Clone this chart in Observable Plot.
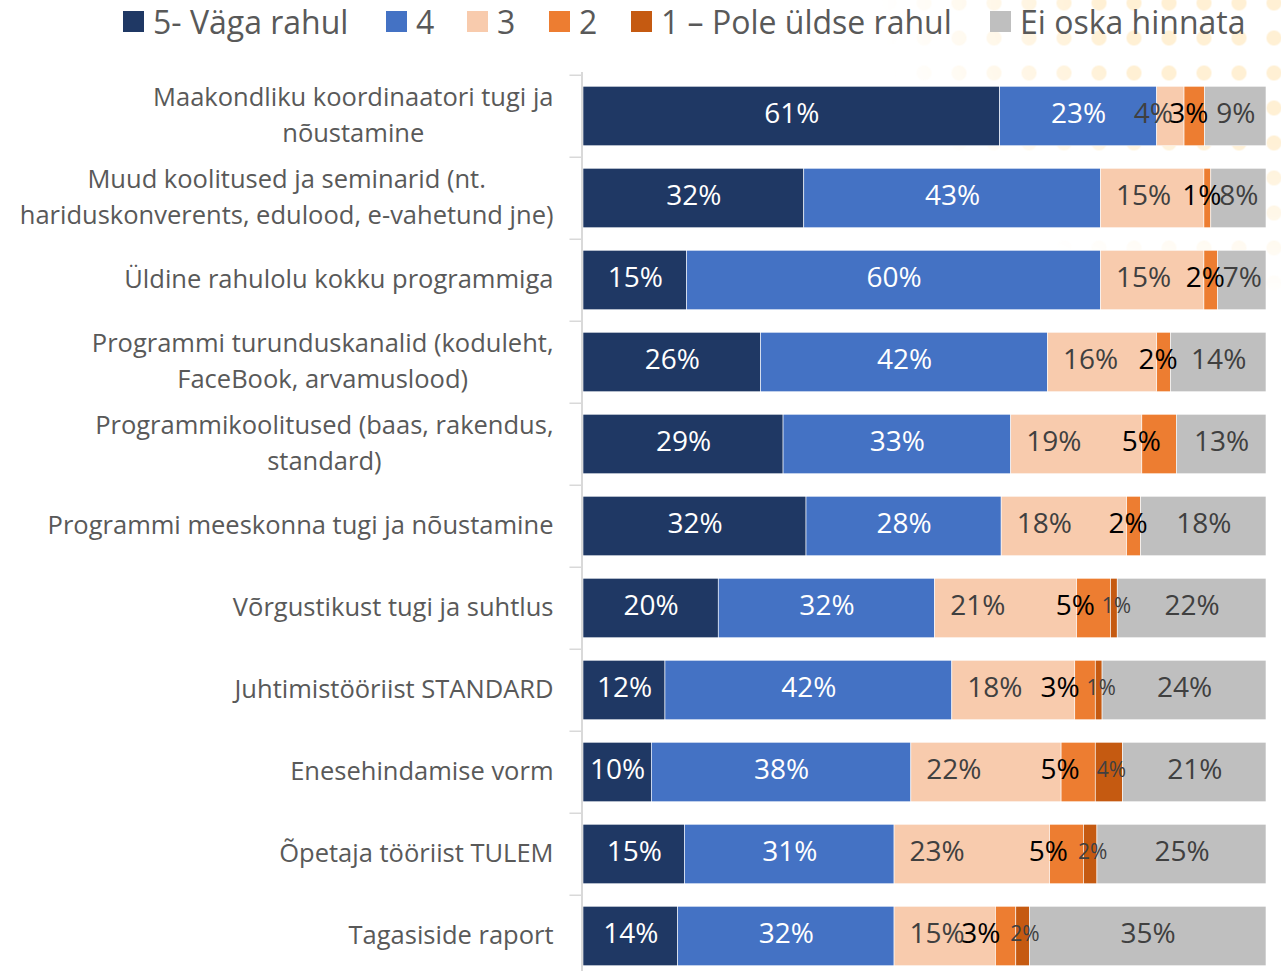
<!DOCTYPE html>
<html>
<head>
<meta charset="utf-8">
<script src="https://cdn.jsdelivr.net/npm/d3@7"></script>
<script src="https://cdn.jsdelivr.net/npm/@observablehq/plot@0.6"></script>
<style>
  html, body { margin: 0; padding: 0; background: #fff; }
  body { width: 1281px; height: 971px; position: relative; overflow: hidden; font-family: "Open Sans", sans-serif; }
  #dots {
    position: absolute; top: 0; right: 0; width: 400px; height: 320px;
    background-image: radial-gradient(circle, #FFF0D4 7px, rgba(255,240,212,0) 8px);
    background-size: 35px 35px;
    background-position: 25.5px -14.5px;
    -webkit-mask-image: radial-gradient(ellipse 400px 300px at 100% 0%, #000 45%, rgba(0,0,0,0) 100%);
    mask-image: radial-gradient(ellipse 400px 300px at 100% 0%, #000 45%, rgba(0,0,0,0) 100%);
    z-index: 0;
  }
  #chart { position: absolute; top: 0; left: 0; z-index: 1; }
  #legend { position: absolute; top: 0; left: 0; width: 1281px; height: 42px; z-index: 2;
    font-size: 32px; color: #595959; white-space: nowrap; }
  #legend .item { position: absolute; top: 0; height: 42px; display: flex; align-items: center; }
  #legend .sw { width: 21px; height: 21px; margin-right: 9px; }
</style>
</head>
<body>
<div id="dots"></div>
<div id="chart"></div>
<div id="legend"></div>
<script>
// ---- data ----
const categories = [
  "Maakondliku koordinaatori tugi ja\nnõustamine",
  "Muud koolitused ja seminarid (nt.\nhariduskonverents, edulood, e-vahetund jne)",
  "Üldine rahulolu kokku programmiga",
  "Programmi turunduskanalid (koduleht,\nFaceBook, arvamuslood)",
  "Programmikoolitused (baas, rakendus,\nstandard)",
  "Programmi meeskonna tugi ja nõustamine",
  "Võrgustikust tugi ja suhtlus",
  "Juhtimistööriist STANDARD",
  "Enesehindamise vorm",
  "Õpetaja tööriist TULEM",
  "Tagasiside raport"
];
const seriesNames = ["5- Väga rahul", "4", "3", "2", "1 – Pole üldse rahul", "Ei oska hinnata"];
const v5 = [61, 32, 15, 26, 29, 32, 20, 12, 10, 15, 14];
const v4 = [23, 43, 60, 42, 33, 28, 32, 42, 38, 31, 32];
const v3 = [4, 15, 15, 16, 19, 18, 21, 18, 22, 23, 15];
const v2 = [3, 1, 2, 2, 5, 2, 5, 3, 5, 5, 3];
const v1 = [0, 0, 0, 0, 0, 0, 1, 1, 4, 2, 2];
const vNA = [9, 8, 7, 14, 13, 18, 22, 24, 21, 25, 35];
const seriesValues = [v5, v4, v3, v2, v1, vNA];
const seriesColors = ["#1F3864", "#4472C4", "#F8CBAD", "#ED7D31", "#C55A11", "#BFBFBF"];

// ---- table ----
const rows = [];
categories.forEach((cat, i) => {
  seriesNames.forEach((s, j) => {
    rows.push({cat, ci: i, series: s, si: j, value: seriesValues[j][i]});
  });
});

// ---- layout ----
const W = 1281, marginTop = 72, step = 82.5;
const H = marginTop + step * categories.length;
const marginLeft = 583, marginRight = 15;
const barInset = 11.25;
const catFontSize = 25.5;
const labelFont = catFontSize + "px 'Open Sans'";
const labelGap = 30;

const ctx = document.createElement("canvas").getContext("2d");
ctx.font = labelFont;
const blockWidth = (t) => Math.max(...t.split("\n").map(l => ctx.measureText(l).width));

const catMarks = categories.map(cat => Plot.text([cat], {
  y: d => d,
  text: d => d,
  frameAnchor: "left",
  textAnchor: "middle",
  dx: -(labelGap + blockWidth(cat) / 2),
  dy: -4,
  lineHeight: 1.41,
  fontSize: catFontSize,
  fill: "#595959"
}));

const stackOpts = {x: "value", y: "cat", z: "series", order: seriesNames, offset: "normalize"};
const pct = (test) => (d) => (d.value > 0 && test(d)) ? d.value + "%" : "";
// "2" labels sit at the segment's inner end when followed by a "1" segment or when wide
const orangeAtEnd = (d) => d.value >= 5 || v1[d.ci] > 0;

const chart = Plot.plot({
  width: W,
  height: H,
  marginTop,
  marginBottom: 0,
  marginLeft,
  marginRight,
  x: {domain: [0, 1], axis: null},
  y: {domain: categories, axis: null, padding: 0},
  style: {background: "transparent", fontFamily: "'Open Sans', sans-serif", overflow: "visible"},
  marks: [
    Plot.barX(rows, Plot.stackX({
      ...stackOpts,
      fill: d => seriesColors[d.si],
      insetTop: barInset, insetBottom: barInset,
      stroke: "#ffffff", strokeWidth: 0.6
    })),
    // 5 and 4: white, centred
    Plot.text(rows, Plot.stackX({...stackOpts, text: pct(d => d.si <= 1), fill: "#FFFFFF", fontSize: 28, dy: -2})),
    // Ei oska hinnata: grey text, centred
    Plot.text(rows, Plot.stackX({...stackOpts, text: pct(d => d.si === 5), fill: "#404040", fontSize: 28, dy: -2})),
    // 3: inside base
    Plot.text(rows, Plot.stackX1({...stackOpts, text: pct(d => d.si === 2 && d.value >= 8), fill: "#404040", fontSize: 28, textAnchor: "start", dx: 15, dy: -2})),
    Plot.text(rows, Plot.stackX1({...stackOpts, text: pct(d => d.si === 2 && d.value < 8), fill: "#404040", fontSize: 28, dx: -4, dy: -2})),
    // 2: black
    Plot.text(rows, Plot.stackX2({...stackOpts, text: pct(d => d.si === 3 && orangeAtEnd(d)), fill: "#000000", fontSize: 28, textAnchor: "end", dx: -16, dy: -2})),
    Plot.text(rows, Plot.stackX({...stackOpts, text: pct(d => d.si === 3 && !orangeAtEnd(d)), fill: "#000000", fontSize: 28, dx: -6, dy: -2})),
    // 1: small
    Plot.text(rows, Plot.stackX({...stackOpts, text: pct(d => d.si === 4), fill: "#404040", fontSize: 21, dx: 2, dy: -2})),
    Plot.ruleX([0], {dx: -1.5, stroke: "#D9D9D9", strokeWidth: 2}),
    Plot.ruleY(categories, {y: d => d, x1: -0.0176, x2: 0, dx: -1.5, dy: -step / 2, stroke: "#D9D9D9", strokeWidth: 1.5}),
    ...catMarks
  ]
});
document.getElementById("chart").appendChild(chart);

// ---- legend ----
const legendX = [123, 386, 467, 549, 631, 990];
const legend = document.getElementById("legend");
seriesNames.forEach((s, j) => {
  const item = document.createElement("div");
  item.className = "item";
  item.style.left = legendX[j] + "px";
  const sw = document.createElement("span");
  sw.className = "sw";
  sw.style.background = seriesColors[j];
  const tx = document.createElement("span");
  tx.textContent = s;
  item.appendChild(sw);
  item.appendChild(tx);
  legend.appendChild(item);
});
</script>
</body>
</html>
